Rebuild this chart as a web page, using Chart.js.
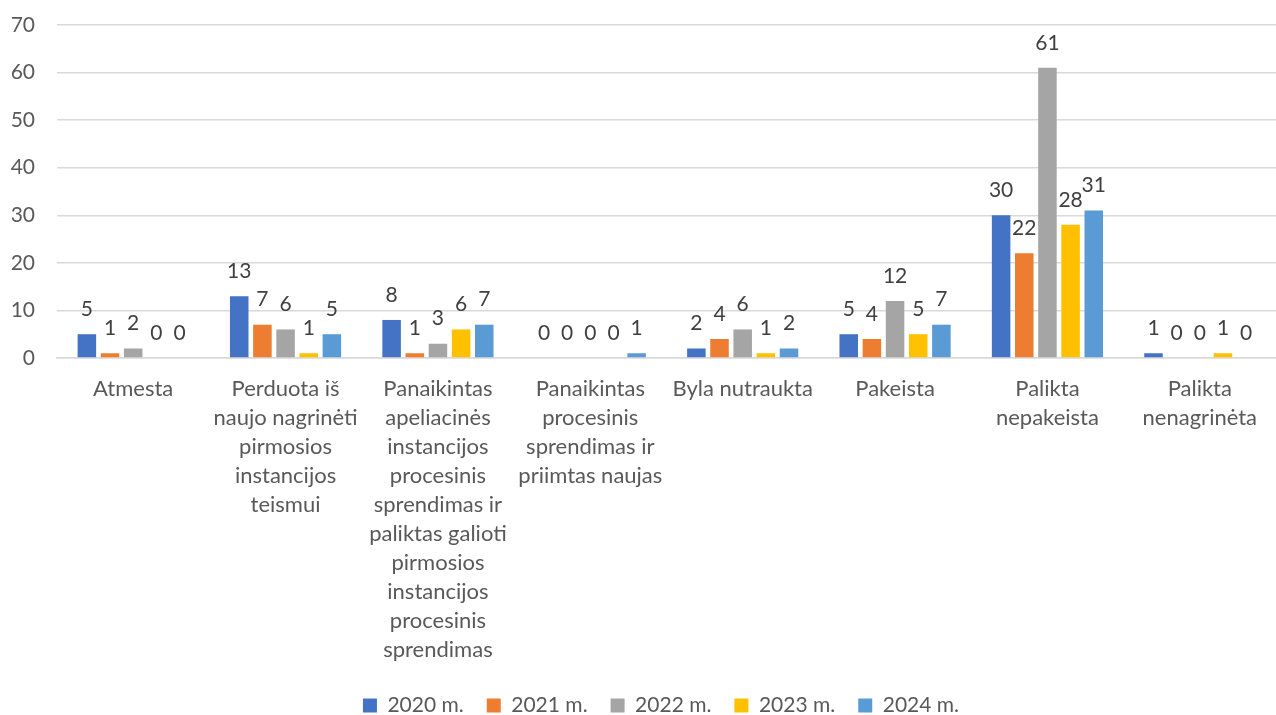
<!DOCTYPE html>
<html>
<head>
<meta charset="utf-8">
<script src="https://cdn.jsdelivr.net/npm/chart.js@4"></script>
<style>
  html, body { margin: 0; padding: 0; background: #fff; }
  #wrap { width: 1276px; height: 715px; }
</style>
</head>
<body>
<div id="wrap"><canvas id="chart"></canvas></div>
<script>
const categories = [
  'Atmesta',
  ['Perduota iš', 'naujo nagrinėti', 'pirmosios', 'instancijos', 'teismui'],
  ['Panaikintas', 'apeliacinės', 'instancijos', 'procesinis', 'sprendimas ir', 'paliktas galioti', 'pirmosios', 'instancijos', 'procesinis', 'sprendimas'],
  ['Panaikintas', 'procesinis', 'sprendimas ir', 'priimtas naujas'],
  'Byla nutraukta',
  'Pakeista',
  ['Palikta', 'nepakeista'],
  ['Palikta', 'nenagrinėta']
];
const seriesNames = ['2020 m.', '2021 m.', '2022 m.', '2023 m.', '2024 m.'];
const y2020 = [5, 13, 8, 0, 2, 5, 30, 1];
const y2021 = [1, 7, 1, 0, 4, 4, 22, 0];
const y2022 = [2, 6, 3, 0, 6, 12, 61, 0];
const y2023 = [0, 1, 6, 0, 1, 5, 28, 1];
const y2024 = [0, 5, 7, 1, 2, 7, 31, 0];
const colors = ['#4472C4', '#ED7D31', '#A5A5A5', '#FFC000', '#5B9BD5'];

const FONT = 'Lato, "Open Sans", sans-serif';
Chart.defaults.font.family = FONT;
Chart.defaults.font.size = 22;
Chart.defaults.color = '#595959';

// simple value labels above each bar
const valueLabels = {
  id: 'valueLabels',
  afterDatasetsDraw(chart) {
    const ctx = chart.ctx;
    ctx.save();
    ctx.font = '21px ' + FONT;
    ctx.fillStyle = '#404040';
    ctx.textAlign = 'center';
    ctx.textBaseline = 'middle';
    chart.data.datasets.forEach((ds, i) => {
      const meta = chart.getDatasetMeta(i);
      meta.data.forEach((bar, j) => {
        ctx.fillText(ds.data[j], bar.x, bar.y - 25);
      });
    });
    ctx.restore();
  }
};

// wide gaps between legend items but keep the legend low, nudged right
const legendFit = {
  id: 'legendFit',
  beforeInit(chart) {
    const fit = chart.legend.fit;
    chart.legend.fit = function () {
      fit.call(this);
      this.height = 43;
    };
  },
  afterLayout(chart) {
    chart.legend.left += 23;
    chart.legend.right += 23;
  }
};

const allSeries = [y2020, y2021, y2022, y2023, y2024];

new Chart(document.getElementById('chart'), {
  type: 'bar',
  data: {
    labels: categories,
    datasets: allSeries.map((d, i) => ({
      label: seriesNames[i],
      data: d,
      backgroundColor: colors[i],
      borderWidth: 0,
      categoryPercentage: 0.76,
      barPercentage: 0.8
    }))
  },
  options: {
    responsive: true,
    maintainAspectRatio: false,
    animation: false,
    layout: { padding: { top: 25, right: 0, left: 0, bottom: 0 } },
    plugins: {
      legend: {
        position: 'bottom',
        labels: { boxWidth: 14, boxHeight: 14, padding: 23, color: '#595959', font: { size: 21 } }
      },
      tooltip: { enabled: false }
    },
    scales: {
      x: {
        grid: { display: false },
        border: { color: '#D9D9D9', width: 1.5 },
        ticks: { maxRotation: 0, autoSkip: false, padding: 8, color: '#595959', font: { lineHeight: 1.32 } },
        afterFit(scale) { scale.height = 314; }
      },
      y: {
        min: 0,
        max: 70,
        ticks: { stepSize: 10, padding: 22, color: '#595959', font: { size: 21 } },
        grid: { color: '#D9D9D9', lineWidth: 1.5, drawTicks: false },
        border: { display: false },
        afterFit(scale) {
          scale.width = 57;
          scale.paddingTop = 12;
          scale.paddingBottom = 12;
        }
      }
    }
  },
  plugins: [valueLabels, legendFit]
});
</script>
</body>
</html>
